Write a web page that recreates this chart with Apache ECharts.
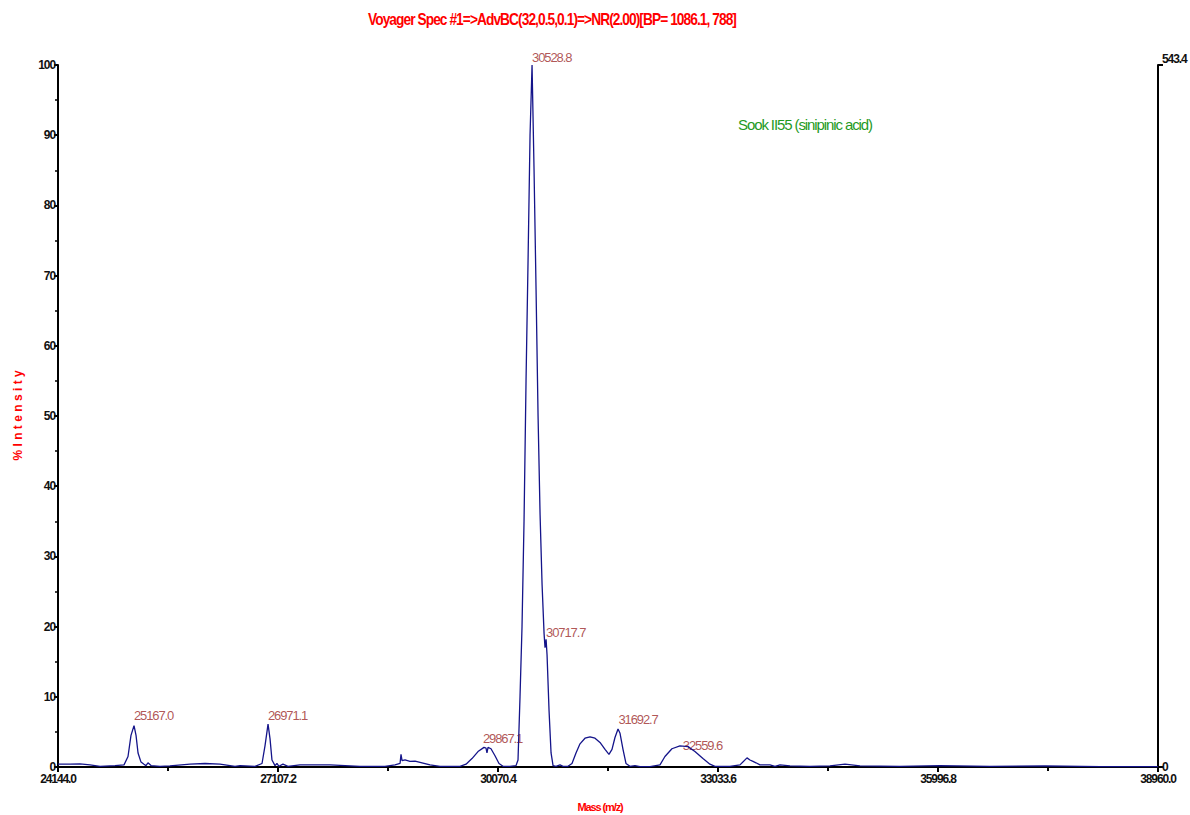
<!DOCTYPE html>
<html>
<head>
<meta charset="utf-8">
<title>Voyager Spec</title>
<script src="https://cdn.jsdelivr.net/npm/echarts@6/dist/echarts.min.js"></script>
<style>
  html, body { margin: 0; padding: 0; background: #fff; }
  #chart { width: 1190px; height: 815px; }
  /* the original uses a narrow face, squeeze the glyphs a bit */
  #chart text { letter-spacing: -1.1px; }
</style>
</head>
<body>
<div id="chart"></div>
<script>
// spectrum trace (m/z, % intensity)
const massValues = [
  24144, 24306, 24440, 24575, 24710, 24912, 25033, 25087, 25127, 25168,
  25195, 25222, 25262, 25302, 25329, 25356, 25397, 25518, 25652, 25922,
  26124, 26326, 26528, 26596, 26797, 26892, 26932, 26973, 27000, 27026,
  27067, 27093, 27120, 27174, 27242, 27403, 27808, 28212, 28548, 28683,
  28751, 28764, 28778, 28818, 28885, 28953, 29047, 29155, 29289, 29559,
  29640, 29720, 29801, 29882, 29909, 29922, 29936, 29976, 30030, 30084,
  30138, 30232, 30313, 30340, 30367, 30394, 30421, 30448, 30475, 30502,
  30529, 30556, 30583, 30610, 30637, 30664, 30691, 30704, 30718, 30731,
  30758, 30785, 30812, 30852, 30906, 30946, 31013, 31067, 31121, 31175,
  31242, 31310, 31377, 31444, 31512, 31565, 31606, 31646, 31687, 31714,
  31754, 31794, 31848, 31915, 31983, 32118, 32252, 32319, 32413, 32521,
  32629, 32723, 32831, 32925, 32993, 33195, 33330, 33424, 33464, 33505,
  33545, 33599, 33734, 33801, 33869, 34003, 34273, 34542, 34744, 34946,
  35485, 36024, 36697, 37438, 38179, 38960
];
const intensityValues = [
  0.4, 0.4, 0.45, 0.3, 0.1, 0.2, 0.3, 1.5, 4.5, 5.9,
  4.5, 2.0, 0.7, 0.4, 0.2, 0.6, 0.2, 0.1, 0.15, 0.4,
  0.5, 0.4, 0.1, 0.2, 0.1, 0.5, 3.0, 6.1, 4.0, 1.0,
  0.2, 0.5, 0.1, 0.4, 0.1, 0.3, 0.3, 0.1, 0.1, 0.3,
  0.5, 1.8, 0.9, 1.0, 0.8, 0.85, 0.6, 0.3, 0.1, 0.1,
  0.4, 1.2, 2.2, 2.8, 2.7, 2.0, 2.8, 2.6, 1.6, 0.5,
  0.1, 0.1, 0.2, 1.0, 10, 20, 35, 55, 72, 90,
  100, 85, 68, 50, 36, 26, 19, 17, 18.2, 16,
  8, 2, 0.2, 0.1, 0.3, 0.1, 0.1, 0.5, 2, 3.3,
  4.1, 4.3, 4.1, 3.5, 2.5, 1.8, 2.5, 4.2, 5.4, 4.8,
  2.5, 0.5, 0.1, 0.2, 0.05, 0.05, 0.3, 1.5, 2.6, 3.0,
  2.9, 2.2, 1.2, 0.4, 0.1, 0.1, 0.3, 1.3, 1.0, 0.8,
  0.6, 0.3, 0.3, 0.1, 0.3, 0.15, 0.1, 0.15, 0.4, 0.15,
  0.1, 0.2, 0.1, 0.15, 0.05, 0.05
];

// peak annotations
const peakLabels = ['25167.0', '26971.1', '29867.1', '30528.8', '30717.7', '31692.7', '32559.6'];
const peakMasses = [25167.0, 26971.1, 29867.1, 30528.8, 30717.7, 31692.7, 32559.6];
const labelHeights = [7.3, 7.3, 4.1, 101.1, 19.2, 6.7, 3.0];

const xTickStart = 24144.0;
const xTickEnd = 38960.0;
const xTickStep = 2963.2;
const rightAxisMax = 543.4;

const face = "'Liberation Sans', Arial, sans-serif";
const sp = '\u00a0';

const chart = echarts.init(document.getElementById('chart'), null, { renderer: 'svg' });

chart.setOption({
  animation: false,
  backgroundColor: '#fff',
  graphic: [{
    type: 'text',
    x: 552,
    y: 19,
    scaleX: 0.86,
    style: {
      text: 'Voyager Spec #1=>AdvBC(32,0.5,0.1)=>NR(2.00)[BP= 1086.1, 788]',
      fill: '#ff0000',
      align: 'center',
      verticalAlign: 'middle',
      font: "bold 16px 'Liberation Sans', Arial, sans-serif"
    }
  }, {
    type: 'text',
    x: 738,
    y: 124,
    style: {
      text: 'Sook II55 (sinipinic acid)',
      fill: '#1f9a1f',
      align: 'left',
      verticalAlign: 'middle',
      font: "15px 'Liberation Sans', Arial, sans-serif"
    }
  }],
  grid: {
    left: 58,
    right: 32,
    top: 65,
    bottom: 48,
    outerBoundsMode: 'none'
  },
  xAxis: {
    type: 'value',
    min: xTickStart,
    max: xTickEnd,
    interval: xTickStep,
    name: 'Mass (m/z)',
    nameLocation: 'middle',
    nameGap: 34,
    nameTextStyle: {
      color: '#ff0000',
      fontFamily: face,
      fontWeight: 'bold',
      fontSize: 11,
      padding: [0, 16, 0, 0]
    },
    axisLine: { lineStyle: { color: '#000', width: 2 } },
    axisTick: { length: 5, lineStyle: { color: '#000', width: 2 } },
    minorTick: { show: true, splitNumber: 2, length: 4, lineStyle: { color: '#000', width: 2 } },
    splitLine: { show: false },
    axisLabel: {
      color: '#111',
      fontFamily: face,
      fontWeight: 'bold',
      fontSize: 12,
      margin: 6,
      formatter: function (v) { return v.toFixed(1) }
    }
  },
  yAxis: [{
    type: 'value',
    min: 0,
    max: 100,
    interval: 10,
    name: ['%', 'I', 'n', 't', 'e', 'n', 's', 'i', 't', 'y'].join(sp + sp),
    nameLocation: 'middle',
    nameGap: 33,
    nameTextStyle: {
      color: '#ff0000',
      fontFamily: face,
      fontWeight: 'bold',
      fontSize: 12
    },
    axisLine: { show: true, lineStyle: { color: '#000', width: 2 } },
    axisTick: { show: true, length: 4, lineStyle: { color: '#000', width: 2 } },
    minorTick: { show: true, splitNumber: 2, length: 3, lineStyle: { color: '#000', width: 1.5 } },
    splitLine: { show: false },
    axisLabel: {
      color: '#111',
      fontFamily: face,
      fontWeight: 'bold',
      fontSize: 12,
      margin: 3
    }
  }, {
    type: 'value',
    position: 'right',
    min: 0,
    max: rightAxisMax,
    interval: rightAxisMax,
    axisLine: { show: true, lineStyle: { color: '#000', width: 2 } },
    axisTick: { show: true, length: 5, lineStyle: { color: '#000', width: 2 } },
    splitLine: { show: false },
    axisLabel: {
      color: '#111',
      fontFamily: face,
      fontWeight: 'bold',
      fontSize: 12,
      margin: 4,
      formatter: function (v) {
        return v > 0 ? '{t|' + v.toFixed(1) + '}' : String(v)
      },
      rich: {
        t: { padding: [0, 0, 12, 0], fontFamily: face, fontWeight: 'bold', fontSize: 12, color: '#111' }
      }
    }
  }],
  series: [{
    name: 'spectrum',
    type: 'line',
    showSymbol: false,
    smooth: false,
    lineStyle: { color: '#14148a', width: 1.3 },
    data: massValues.map(function (m, i) { return [m, intensityValues[i]] })
  }, {
    name: 'peaks',
    type: 'scatter',
    symbolSize: 0,
    clip: false,
    silent: true,
    label: {
      show: true,
      position: 'right',
      distance: 0,
      color: '#9c2a2a',
      fontFamily: face,
      fontSize: 13,
      formatter: function (p) { return peakLabels[p.dataIndex] }
    },
    data: peakMasses.map(function (m, i) { return [m, labelHeights[i]] })
  }]
})
</script>
</body>
</html>
